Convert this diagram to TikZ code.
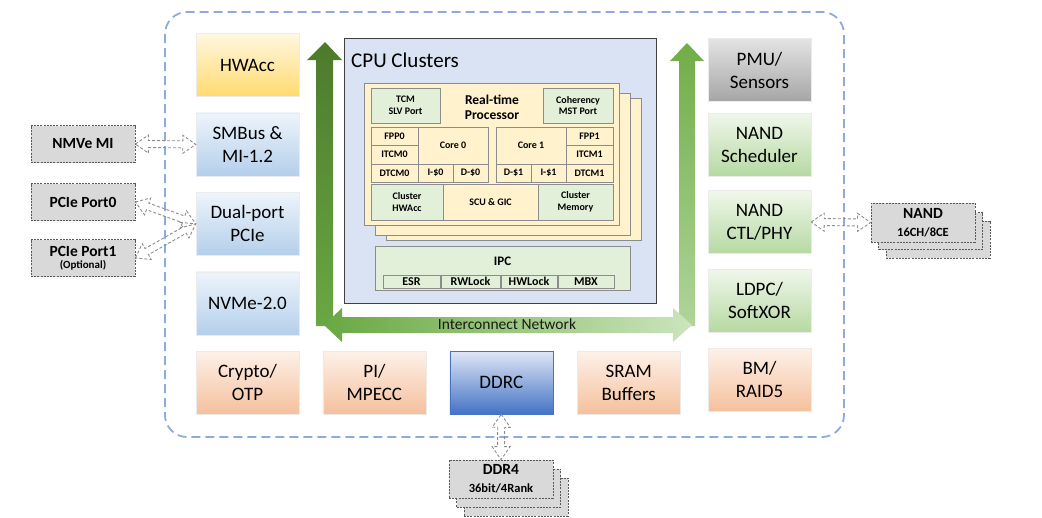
\documentclass[tikz,border=0pt]{standalone}
\usepackage{fontspec}
\setmainfont{Carlito}
\usetikzlibrary{positioning,calc}

\definecolor{FrameBlue}{HTML}{8FAADC}
\definecolor{HwTop}{HTML}{FFF7E0}
\definecolor{HwBot}{HTML}{FFDA6E}
\definecolor{BlueTop}{HTML}{EEF4FB}
\definecolor{BlueBot}{HTML}{B4CFEB}
\definecolor{GreenTop}{HTML}{F0F7EB}
\definecolor{GreenBot}{HTML}{B6D9A2}
\definecolor{OrangeTop}{HTML}{FDF1E8}
\definecolor{OrangeBot}{HTML}{F5C09D}
\definecolor{PmuTop}{HTML}{E4E4E4}
\definecolor{PmuBot}{HTML}{A5A5A5}
\definecolor{DdrTop}{HTML}{DFE7F6}
\definecolor{DdrBot}{HTML}{4472C4}
\definecolor{CpuFill}{HTML}{DAE3F3}
\definecolor{CpuLine}{HTML}{404040}
\definecolor{CellGreen}{HTML}{E2F0D9}
\definecolor{CellCream}{HTML}{FFF2CC}
\definecolor{CellLine}{HTML}{8C8C8C}
\definecolor{ExtFill}{HTML}{D9D9D9}
\definecolor{ExtLine}{HTML}{595959}
\definecolor{IoLine}{HTML}{8C8C8C}
\definecolor{DarkGreenTop}{HTML}{4C7A2C}
\definecolor{DarkGreenBot}{HTML}{6AA843}
\definecolor{LightGreenTop}{HTML}{70AD47}
\definecolor{LightGreenBot}{HTML}{B0D49A}
\definecolor{BarLeft}{HTML}{69A842}
\definecolor{BarRight}{HTML}{CBE5BC}

% dashed double block arrow between two points
\newcommand\ioarrow[2]{%
  \draw[ioline] (#1)
    -- ($($(#1)!13pt!(#2)$)!9pt!90:(#2)$)
    -- ($($(#1)!13pt!(#2)$)!3.5pt!90:(#2)$)
    -- ($($(#2)!13pt!(#1)$)!3.5pt!-90:(#1)$)
    -- ($($(#2)!13pt!(#1)$)!9pt!-90:(#1)$)
    -- (#2)
    -- ($($(#2)!13pt!(#1)$)!9pt!90:(#1)$)
    -- ($($(#2)!13pt!(#1)$)!3.5pt!90:(#1)$)
    -- ($($(#1)!13pt!(#2)$)!3.5pt!-90:(#2)$)
    -- ($($(#1)!13pt!(#2)$)!9pt!-90:(#2)$)
    -- cycle;}

\begin{document}
\begin{tikzpicture}[x=1pt,y=-1pt,
  blk/.style={minimum width=103pt,minimum height=63pt,inner sep=0pt,align=center,
    draw=black!8,font=\fontsize{19}{23}\selectfont},
  accblk/.style={blk,top color=HwTop,bottom color=HwBot},
  hostblk/.style={blk,top color=BlueTop,bottom color=BlueBot},
  flashblk/.style={blk,top color=GreenTop,bottom color=GreenBot},
  datablk/.style={blk,top color=OrangeTop,bottom color=OrangeBot},
  wh/.style 2 args={minimum width=#1pt,minimum height=#2pt},
  cell/.style={draw=CellLine,line width=0.8pt,inner sep=0pt,align=center,
    font=\bfseries\fontsize{10}{11.5}\selectfont},
  gcell/.style={cell,fill=CellGreen},
  ycell/.style={cell,fill=CellCream},
  ipccell/.style={gcell,wh={56}{13},font=\bfseries\fontsize{12}{13}\selectfont},
  extbox/.style={draw=ExtLine,line width=0.8pt,dash pattern=on 2pt off 1.2pt,
    fill=ExtFill,wh={104}{37},inner sep=0pt,align=center,
    font=\bfseries\fontsize{15.5}{17}\selectfont},
  ioline/.style={draw=IoLine,line width=0.9pt,dash pattern=on 3pt off 2pt}]

  \useasboundingbox (0,0) rectangle (1042,517);

  % chip boundary
  \draw[FrameBlue,line width=1.8pt,dash pattern=on 9pt off 5pt,rounded corners=22pt]
    (165,12) rectangle (844,437);

  % left column
  \node[accblk]  (HWAcc)    at (247.5,65) {HWAcc};
  \node[hostblk] (SMBus)    [below=16pt of HWAcc] {SMBus \&\\MI-1.2};
  \node[hostblk] (DualPCIe) [below=16pt of SMBus] {Dual-port\\PCIe};
  \node[hostblk] (NVMe)     [below=16pt of DualPCIe] {NVMe-2.0};
  \node[datablk] (Crypto)   [below=16pt of NVMe] {Crypto/\\OTP};

  % bottom row
  \node[datablk] (PIMPECC)  [right=23.5pt of Crypto] {PI/\\MPECC};
  \node[blk,top color=DdrTop,bottom color=DdrBot,draw=DdrBot] (DDRC)
    [right=23.5pt of PIMPECC] {DDRC};
  \node[datablk] (SRAM)     [right=24pt of DDRC] {SRAM\\Buffers};

  % right column
  \node[blk,top color=PmuTop,bottom color=PmuBot] (PMU) at (759.5,70) {PMU/\\Sensors};
  \node[flashblk] (NANDSched) at (759.5,144.5) {NAND\\Scheduler};
  \node[flashblk] (NANDCtl)   at (759.5,222) {NAND\\CTL/PHY};
  \node[flashblk] (LDPC)      at (759.5,300.5) {LDPC/\\SoftXOR};
  \node[datablk]  (BM)        at (759.5,379.5) {BM/\\RAID5};

  % interconnect arrows
  \shade[top color=DarkGreenTop,bottom color=DarkGreenBot]
    (316,326) -- (316,60) -- (307,60) -- (325,42) -- (342,60) -- (333,60) -- (333,326) -- cycle;
  \shade[top color=LightGreenTop,bottom color=LightGreenBot]
    (679,326) -- (679,61) -- (670,61) -- (687,43) -- (704,61) -- (695,61) -- (695,326) -- cycle;
  \shade[left color=BarLeft,right color=BarRight]
    (324,325) -- (342,308) -- (342,317) -- (673,317) -- (673,308) -- (692,325)
    -- (673,342) -- (673,333) -- (342,333) -- (342,342) -- cycle;
  \node[font=\fontsize{15.5}{17}\selectfont,text=black!90] (NoC) at (507,324) {Interconnect Network};

  % CPU clusters
  \node[draw=CpuLine,line width=1pt,fill=CpuFill,wh={312}{265}] (CPU) at (500,170.5) {};
  \node[anchor=west,inner sep=0pt,font=\fontsize{21}{24}\selectfont] (CPUTitle) at (351,60) {CPU Clusters};

  \node[ycell,wh={255}{142}] (RTP3) at (513.5,169) {};
  \node[ycell,wh={255}{142}] (RTP2) at (502.5,164) {};
  \node[ycell,wh={255}{142}] (RTP)  at (491.5,154) {};
  \node[font=\bfseries\fontsize{13.5}{15}\selectfont,align=center] (RTPTitle) at (492,107) {Real-time\\Processor};

  \node[gcell,wh={69}{35}] (TCMPort) at (405.5,105.5) {TCM\\SLV Port};
  \node[gcell,wh={70}{35}] (CohPort) at (578,105.5) {Coherency\\MST Port};

  \node[ycell,wh={47}{18}] (FPP0)    at (394.5,136) {FPP0};
  \node[ycell,wh={47}{19}] (ITCM0)   at (394.5,154.5) {ITCM0};
  \node[ycell,wh={47}{18}] (DTCM0)   at (394.5,173) {DTCM0};
  \node[ycell,wh={70}{37}] (Core0)   at (453,145.5) {Core 0};
  \node[ycell,wh={35}{18}] (ICache0) at (435.5,173) {I-\$0};
  \node[ycell,wh={35}{18}] (DCache0) at (470.5,173) {D-\$0};

  \node[ycell,wh={70}{37}] (Core1)   at (531,145.5) {Core 1};
  \node[ycell,wh={47}{18}] (FPP1)    at (589.5,136) {FPP1};
  \node[ycell,wh={47}{19}] (ITCM1)   at (589.5,154.5) {ITCM1};
  \node[ycell,wh={47}{18}] (DTCM1)   at (589.5,173) {DTCM1};
  \node[ycell,wh={35}{18}] (DCache1) at (513.5,173) {D-\$1};
  \node[ycell,wh={35}{18}] (ICache1) at (548.5,173) {I-\$1};

  \node[gcell,wh={72}{36}] (ClHWAcc) at (407,202) {Cluster\\HWAcc};
  \node[ycell,wh={95}{36}] (SCUGIC)  at (490.5,202) {SCU \& GIC};
  \node[gcell,wh={75}{36}] (ClMem)   at (575.5,202) {Cluster\\Memory};

  \node[gcell,wh={255}{44}] (IPC) at (502.5,268) {};
  \node[font=\bfseries\fontsize{13}{15}\selectfont] (IPCTitle) at (502.5,261) {IPC};
  \node[ipccell,wh={57}{13}] (ESR)    at (411.5,281.5) {ESR};
  \node[ipccell,wh={59}{13}] (RWLock) at (470.5,281.5) {RWLock};
  \node[ipccell]             (HWLock) at (529,281.5) {HWLock};
  \node[ipccell]             (MBX)    at (586,281.5) {MBX};

  % external interfaces
  \node[extbox] (NMVeMI)    at (83,144) {NMVe MI};
  \node[extbox] (PCIePort0) at (83,202) {PCIe Port0};
  \node[extbox] (PCIePort1) at (83,258) {PCIe Port1\\[-5pt]{\fontsize{11}{12}\selectfont (Optional)}};

  \node[extbox] (NAND3) at (938,239.5) {};
  \node[extbox] (NAND2) at (930.5,231) {};
  \node[extbox,wh={104}{39}] (NAND) at (923,222.5)
    {NAND\\[1pt]{\fontsize{12.5}{14}\selectfont 16CH/8CE}};

  \node[extbox,wh={104}{38}] (DDR43) at (516,497) {};
  \node[extbox,wh={104}{38}] (DDR42) at (508.5,488) {};
  \node[extbox,wh={104}{38}] (DDR4)  at (501,479)
    {DDR4\\[1pt]{\fontsize{12.5}{14}\selectfont 36bit/4Rank}};

  \ioarrow{NMVeMI.east}{SMBus.west}
  \ioarrow{PCIePort0.east}{DualPCIe.west}
  \ioarrow{PCIePort1.east}{DualPCIe.west}
  \ioarrow{NANDCtl.east}{NAND.west}
  \ioarrow{DDRC.south}{DDR4.north}

\end{tikzpicture}
\end{document}
